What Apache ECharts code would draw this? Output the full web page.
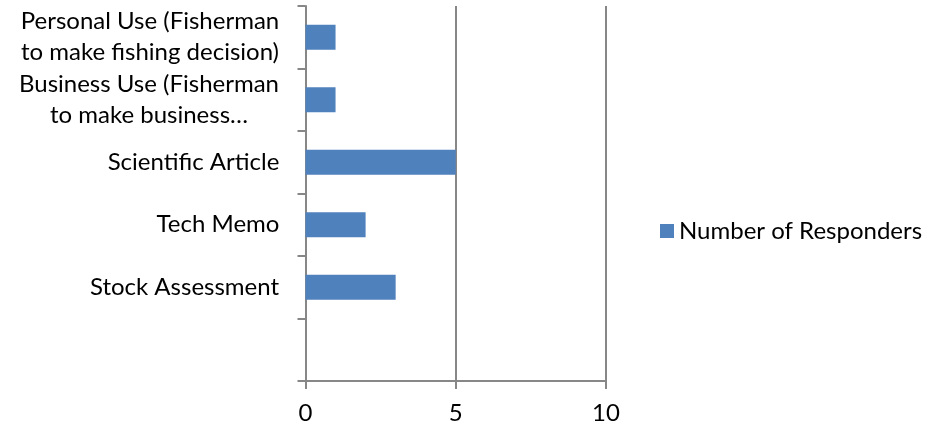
<!DOCTYPE html>
<html>
<head>
<meta charset="utf-8">
<script src="https://cdn.jsdelivr.net/npm/echarts@6/dist/echarts.min.js"></script>
<style>
  html, body { margin: 0; padding: 0; background: #fff; }
  #chart { width: 932px; height: 429px; }
</style>
</head>
<body>
<div id="chart"></div>
<script>
// categories top to bottom, last one is the empty slot at the bottom
const categories = [
  'Personal Use (Fisherman\nto make fishing decision)',
  'Business Use (Fisherman\nto make business…',
  'Scientific Article',
  'Tech Memo',
  'Stock Assessment',
  ''
]
const responders = [1, 1, 5, 2, 3, null]
const seriesName = 'Number of Responders'

const axisGray = '#878787'
const fontFamily = 'Lato, "Noto Sans", sans-serif'
const fontSize = 24

// measure each label so multi-line labels can be centred line by line
const ctx = document.createElement('canvas').getContext('2d')
ctx.font = fontSize + 'px ' + fontFamily
const rich = {}
categories.forEach(function (c, i) {
  let w = 0
  c.split('\n').forEach(function (s) { w = Math.max(w, ctx.measureText(s).width) })
  rich['r' + i] = { width: Math.ceil(w), align: 'center', fontSize: fontSize, lineHeight: 31, color: '#000', fontFamily: fontFamily }
})

const chart = echarts.init(document.getElementById('chart'))
chart.setOption({
  animation: false,
  textStyle: { fontFamily: fontFamily },
  grid: { left: 305.5, right: 326, top: 6, bottom: 48 },
  legend: {
    data: [seriesName],
    left: 655,
    top: 214,
    itemWidth: 14,
    itemHeight: 14,
    itemGap: 8,
    icon: 'rect',
    textStyle: { fontSize: fontSize, color: '#000', fontFamily: fontFamily }
  },
  xAxis: {
    type: 'value',
    min: 0,
    max: 10,
    interval: 5,
    axisLine: { show: true, lineStyle: { color: axisGray, width: 2 } },
    axisTick: { show: true, length: 8, lineStyle: { color: axisGray, width: 2 } },
    splitLine: { show: true, lineStyle: { color: axisGray, width: 2 } },
    axisLabel: { fontSize: fontSize, color: '#000', margin: 20 }
  },
  yAxis: {
    type: 'category',
    inverse: true,
    data: categories,
    axisLine: { show: true, lineStyle: { color: axisGray, width: 2 } },
    axisTick: { show: true, length: 8, lineStyle: { color: axisGray, width: 2 } },
    axisLabel: {
      interval: 0,
      hideOverlap: false,
      margin: 26,
      color: '#000',
      fontSize: fontSize,
      lineHeight: 31,
      formatter: function (v, i) {
        return v.split('\n').map(function (s) { return '{r' + i + '|' + s + '}' }).join('\n')
      },
      rich: rich
    }
  },
  series: [{
    name: seriesName,
    type: 'bar',
    data: responders,
    barWidth: '40%',
    itemStyle: { color: '#4F81BD' }
  }]
})
</script>
</body>
</html>
